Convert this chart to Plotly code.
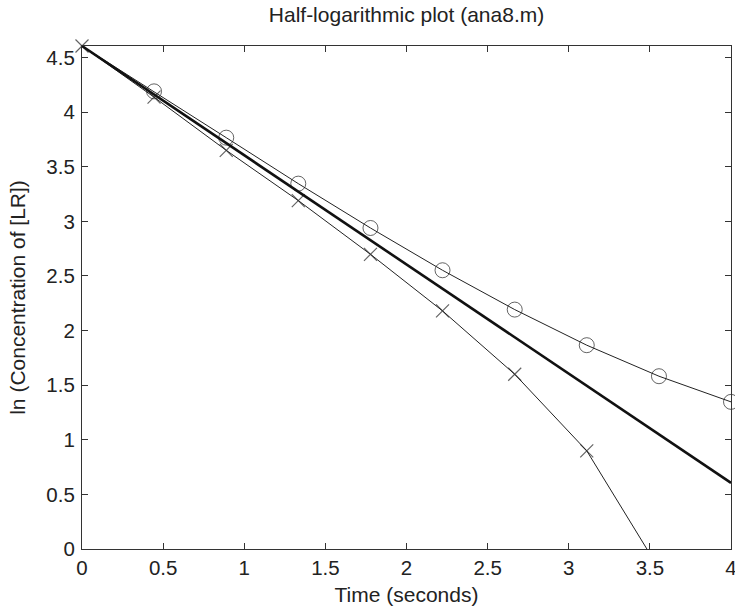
import math
import plotly.graph_objects as go

# Data
time_s = [0, 0.444, 0.889, 1.333, 1.778, 2.222, 2.667, 3.111, 3.556, 4.0]
ln_circle = [4.605, 4.19, 3.766, 3.345, 2.939, 2.552, 2.192, 1.866, 1.582, 1.347]
time_cross = [0, 0.444, 0.889, 1.333, 1.778, 2.222, 2.667, 3.111, 3.556]
ln_cross = [4.605, 4.137, 3.65, 3.19, 2.698, 2.18, 1.60, 0.899, -0.18]
fit_t = [0, 4]
fit_y = [4.605, 0.605]

x_ticks = [0, 0.5, 1, 1.5, 2, 2.5, 3, 3.5, 4]
x_tick_labels = ["0", "0.5", "1", "1.5", "2", "2.5", "3", "3.5", "4"]
y_ticks = [0, 0.5, 1, 1.5, 2, 2.5, 3, 3.5, 4, 4.5]
y_tick_labels = ["0", "0.5", "1", "1.5", "2", "2.5", "3", "3.5", "4", "4.5"]

FONT = "Liberation Sans, Arial, Helvetica, sans-serif"
INK = "#222222"
AX = "#333333"

fig = go.Figure()

fig.add_trace(go.Scatter(
    x=time_s, y=ln_circle, mode="lines+markers",
    line=dict(color=INK, width=1),
    marker=dict(symbol="circle-open", color=INK,
                size=[0 if i == 0 else 15 for i in range(len(time_s))],
                line=dict(width=1, color=INK)),
    cliponaxis=False, showlegend=False,
))
fig.add_trace(go.Scatter(
    x=time_cross, y=ln_cross, mode="lines+markers",
    line=dict(color=INK, width=1),
    marker=dict(symbol="x-thin-open", color=INK,
                size=[13 if v >= 0 else 0 for v in ln_cross],
                line=dict(width=1.2, color=INK)),
    cliponaxis=False, showlegend=False,
))
fig.add_trace(go.Scatter(
    x=fit_t, y=fit_y, mode="lines",
    line=dict(color="#111111", width=2.6),
    showlegend=False,
))

axis_common = dict(
    showline=True, linecolor=AX, linewidth=1.2, mirror="ticks",
    ticks="inside", ticklen=6, tickwidth=1, tickcolor=AX,
    showgrid=False, zeroline=False, ticklabeloverflow="allow",
    automargin=False,
    tickfont=dict(family=FONT, size=20.5, color=INK),
)

fig.update_layout(
    width=735, height=607,
    margin=dict(l=82, r=4, t=46, b=58),
    paper_bgcolor="white", plot_bgcolor="white",
    title=dict(text="Half-logarithmic plot (ana8.m)",
               font=dict(family=FONT, size=21, color=INK),
               x=0.5, xref="paper", y=1 - 15 / 607, yref="container",
               xanchor="center", yanchor="middle", automargin=False),
    xaxis=dict(range=[0, 4], tickvals=x_ticks, ticktext=x_tick_labels,
               title=dict(text="Time (seconds)", standoff=9,
                          font=dict(family=FONT, size=21, color=INK)),
               **axis_common),
    yaxis=dict(range=[0, math.log(100)], tickvals=y_ticks, ticktext=y_tick_labels,
               ticklabelstandoff=2,
               title=dict(text="ln (Concentration of [LR])", standoff=14,
                          font=dict(family=FONT, size=21, color=INK)),
               **axis_common),
)

fig.write_html("out.html")
